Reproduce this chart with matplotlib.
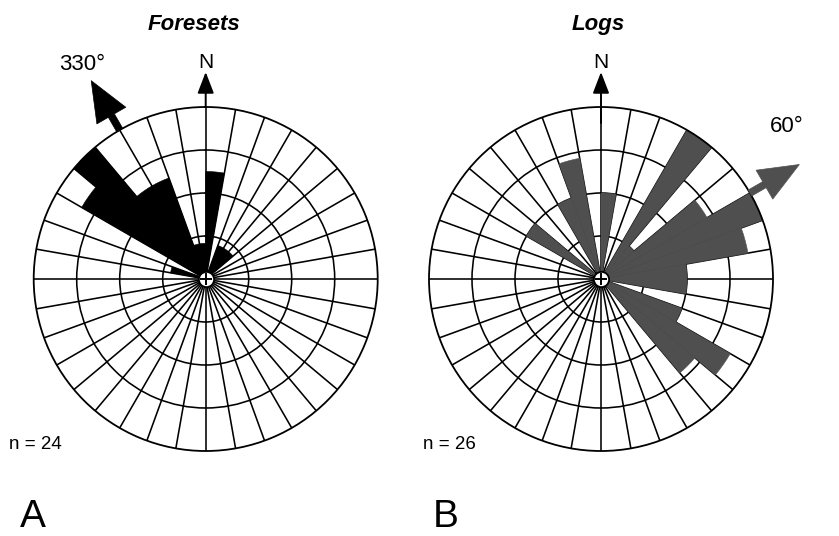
import numpy as np
import matplotlib
matplotlib.use("Agg")
import matplotlib.pyplot as plt

plt.rcParams['font.family'] = ['Liberation Sans', 'DejaVu Sans']

# ---- data (bar lengths in ring units; rings at 1,2,3,4) ----
sector_starts_A = [280, 300, 310, 320, 330, 340, 350, 0, 20, 30, 40]
lengths_A = [0.83, 3.33, 4.0, 2.5, 2.5, 0.83, 0.83, 2.5, 0.83, 0.83, 0.83]

sector_starts_B = [300, 330, 340, 0, 30, 40, 50, 60, 70, 80, 90, 110, 120, 130]
lengths_B = [2.0, 2.0, 2.85, 2.0, 4.0, 1.0, 2.85, 4.0, 3.47, 2.0, 2.0, 2.0, 3.47, 2.85]

titles = ["Foresets", "Logs"]
n_labels = ["n = 24", "n = 26"]
panel_labels = ["A", "B"]
mean_dirs = [330, 60]
mean_labels = ["330°", "60°"]
colors = ["#000000", "#4f4f4f"]

W, H = 839, 536
fig = plt.figure(figsize=(W / 100, H / 100), dpi=100)
R = 172.0
centers = [(205.7, 279.0), (601.0, 279.0)]
unit = R / 4.0


def make_ax(cx, cy):
    ax = fig.add_axes([(cx - R) / W, (H - cy - R) / H, 2 * R / W, 2 * R / H],
                      projection='polar')
    ax.set_theta_zero_location('N')
    ax.set_theta_direction(-1)
    ax.set_ylim(0, 4)
    ax.set_rgrids([1, 2, 3], labels=[])
    ax.set_thetagrids(np.arange(0, 360, 10), labels=[])
    ax.tick_params(size=0)
    ax.grid(True, color='black', lw=1.15)
    ax.spines['polar'].set_linewidth(1.3)
    ax.set_axisbelow(True)
    ax.patch.set_alpha(0)
    return ax


def draw(ax, starts, lengths, color, mean_dir, n_thick_from):
    th = np.deg2rad(np.array(starts) + 5)
    ax.bar(th, lengths, width=np.deg2rad(10), bottom=0, color=color,
           edgecolor=color, linewidth=0.4, zorder=1)
    # center symbol
    ax.scatter([0], [0], s=120, facecolor='white', edgecolors='black',
               linewidths=1.3, zorder=10, clip_on=False)
    ax.plot([0], [0], marker='+', ms=8, mew=1.4, color='black', zorder=11,
            clip_on=False)
    # north arrow
    ax.annotate('', xy=(0, 207 / unit), xytext=(0, n_thick_from),
                arrowprops=dict(arrowstyle='-|>,head_length=1.3,head_width=0.5',
                                mutation_scale=10, color='black', lw=1.4,
                                shrinkA=0, shrinkB=0),
                annotation_clip=False)
    # mean direction arrow
    t = np.deg2rad(mean_dir)
    ax.annotate('', xy=(t, 229 / unit), xytext=(t, 4.0),
                arrowprops=dict(arrowstyle='simple,head_length=2.9,head_width=2.4,tail_width=0.5',
                                mutation_scale=10, fc=color, ec=color, lw=0.5,
                                shrinkA=0, shrinkB=0),
                annotation_clip=False)


axA = make_ax(*centers[0])
draw(axA, sector_starts_A, lengths_A, colors[0], mean_dirs[0], 4.0)
axB = make_ax(*centers[1])
draw(axB, sector_starts_B, lengths_B, colors[1], mean_dirs[1], (279 - 123) / unit)


def ftext(x, y, s, **kw):
    fig.text(x / W, 1 - y / H, s, **kw)


ftext(193.5, 30, titles[0], ha='center', va='baseline', fontsize=16,
      fontweight='bold', fontstyle='italic')
ftext(598, 30, titles[1], ha='center', va='baseline', fontsize=16,
      fontweight='bold', fontstyle='italic')
ftext(205.7, 68, "N", ha='center', va='baseline', fontsize=15)
ftext(601, 68, "N", ha='center', va='baseline', fontsize=15)
ftext(82.5, 70, mean_labels[0], ha='center', va='baseline', fontsize=16)
ftext(787, 132, mean_labels[1], ha='center', va='baseline', fontsize=16)
ftext(9, 449, n_labels[0], ha='left', va='baseline', fontsize=13.5)
ftext(423, 449, n_labels[1], ha='left', va='baseline', fontsize=13.5)
ftext(20, 527, panel_labels[0], ha='left', va='baseline', fontsize=28)
ftext(433, 527, panel_labels[1], ha='left', va='baseline', fontsize=28)

fig.savefig("out.png", dpi=100, facecolor='white')
